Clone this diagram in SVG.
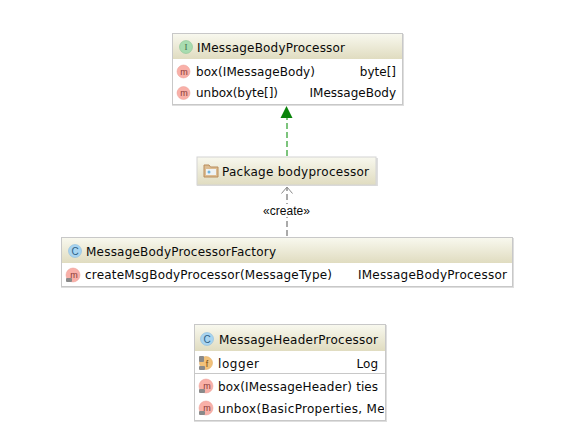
<svg xmlns="http://www.w3.org/2000/svg" width="578" height="448" viewBox="0 0 578 448">
<style>
text{font-family:"DejaVu Sans","Liberation Sans",sans-serif;font-size:12px;fill:#0a0a0a}
.box{fill:#fff;stroke:#c8c8c8;stroke-width:1}
.shadow{fill:#bdbdbd;opacity:.5}
.head{fill:url(#hg)}
.sep{stroke:#c8c8c8;stroke-width:1}
.m{fill:#f9b0a8;stroke:#eb9c94;stroke-width:.5}
.ml{font-size:9px;fill:#8a3a36;font-family:"Liberation Sans",sans-serif;text-anchor:middle}
.i{fill:#a8dcb0;stroke:#7fbf8a;stroke-width:.5}
.il{font-size:9px;fill:#3f6b46;font-family:"Liberation Serif",serif;text-anchor:middle}
.c{fill:#a8d4f0;stroke:#7fb5dc;stroke-width:.5}
.cl{font-size:10px;fill:#2f5f86;font-family:"Liberation Sans",sans-serif;text-anchor:middle}
.lock{fill:#8a8a8a}
</style>
<defs>
<linearGradient id="hg" x1="0" y1="0" x2="0" y2="1"><stop offset="0" stop-color="#f8f8ee"/><stop offset="1" stop-color="#e0dcc0"/></linearGradient>
<clipPath id="cp"><rect x="195" y="326" width="189" height="95"/></clipPath>
</defs>
<rect width="578" height="448" fill="#fff"/>
<g id="connectors">
<line x1="287" y1="156" x2="287" y2="118" stroke="#7cc47c" stroke-width="2" stroke-dasharray="6 3"/>
<polygon points="286.500,106 280.500,118 292.500,118" fill="#0a840a"/>
<line x1="287" y1="236" x2="287" y2="188" stroke="#aaaaaa" stroke-width="2" stroke-dasharray="6 3"/>
<path d="M281.500 193.500 L287 187 L292.500 193.500" fill="none" stroke="#8a8a8a" stroke-width="1"/>
<rect x="262" y="204" width="50" height="13" fill="#fff"/>
<text x="263" y="214.500" textLength="47" style="font-family:'Liberation Sans',sans-serif">«create»</text>
</g>
<g id="IMessageBodyProcessor">
<rect class="shadow" x="172" y="34" width="232" height="72"/>
<rect class="box" x="172.500" y="33.500" width="230" height="71"/>
<rect class="head" x="173" y="34" width="229" height="25"/>
<circle class="i" cx="186" cy="47" r="6.500"/><text class="il" x="186" y="50">I</text>
<text x="197" y="51.500" textLength="148">IMessageBodyProcessor</text>
<circle class="m" cx="183.500" cy="71.500" r="6.500"/><text class="ml" x="184" y="74.500">m</text>
<text x="196" y="76" textLength="119">box(IMessageBody)</text>
<text x="396" y="76" text-anchor="end">byte[]</text>
<circle class="m" cx="183.500" cy="93" r="6.500"/><text class="ml" x="184" y="96">m</text>
<text x="196" y="97" textLength="82">unbox(byte[])</text>
<text x="396" y="97" text-anchor="end">IMessageBody</text>
</g>
<g id="Package">
<rect class="shadow" x="197" y="158" width="181" height="28"/>
<rect x="197" y="157" width="179" height="28" fill="url(#hg)" stroke="#d4d4d4"/>
<path d="M204 165h5l1.500 2h7.500v10h-14z" fill="#ddbd92" stroke="#b88d5c" stroke-width="1"/>
<rect x="206" y="169" width="10" height="6" fill="#eef3f5"/><circle cx="209" cy="172" r="1.500" fill="#6fb3dc"/>
<text x="222" y="176" textLength="147">Package bodyprocessor</text>
</g>
<g id="MessageBodyProcessorFactory">
<rect class="shadow" x="61" y="238" width="453" height="50"/>
<rect class="box" x="61.500" y="237.500" width="451" height="49"/>
<rect class="head" x="62" y="238" width="450" height="25"/>
<circle class="c" cx="75" cy="251" r="6.500"/><text class="cl" x="75" y="254.500">C</text>
<text x="86" y="256" textLength="190">MessageBodyProcessorFactory</text>
<circle class="m" cx="73" cy="275" r="7"/><text class="ml" x="74" y="278">m</text>
<rect class="lock" x="66" y="278" width="6" height="4" rx="1"/>
<text x="85" y="279" textLength="247">createMsgBodyProcessor(MessageType)</text>
<text x="507" y="279" text-anchor="end" textLength="149">IMessageBodyProcessor</text>
</g>
<g id="MessageHeaderProcessor">
<rect class="shadow" x="194" y="325" width="193" height="97"/>
<rect class="box" x="194.500" y="324.500" width="191" height="96"/>
<rect class="head" x="195" y="325" width="190" height="26"/>
<circle class="c" cx="207" cy="339" r="6.500"/><text class="cl" x="207" y="342.500">C</text>
<text x="219" y="344" textLength="159">MessageHeaderProcessor</text>
<circle cx="206" cy="363" r="6.500" fill="#f2c27a" stroke="#dba458" stroke-width=".5"/><text x="207" y="367" style="font-size:9px;fill:#7a4a10;font-family:'Liberation Sans',sans-serif;text-anchor:middle">f</text>
<rect class="lock" x="199" y="356" width="5" height="6" rx="1"/><rect class="lock" x="199" y="366" width="6" height="4" rx="1"/>
<text x="218" y="368" textLength="41">logger</text>
<text x="378" y="368" text-anchor="end">Log</text>
<line class="sep" x1="195" y1="373.500" x2="385" y2="373.500"/>
<circle class="m" cx="206" cy="386" r="7"/><text class="ml" x="207" y="389">m</text>
<rect class="lock" x="199" y="389" width="6" height="4" rx="1"/>
<text x="218" y="391" textLength="134">box(IMessageHeader)</text>
<text x="378" y="391" text-anchor="end">ties</text>
<circle class="m" cx="206" cy="408" r="7"/><text class="ml" x="207" y="411">m</text>
<rect class="lock" x="199" y="411" width="6" height="4" rx="1"/>
<text x="218" y="413" clip-path="url(#cp)" letter-spacing=".3">unbox(BasicProperties, MessageType)</text>
</g>
</svg>
